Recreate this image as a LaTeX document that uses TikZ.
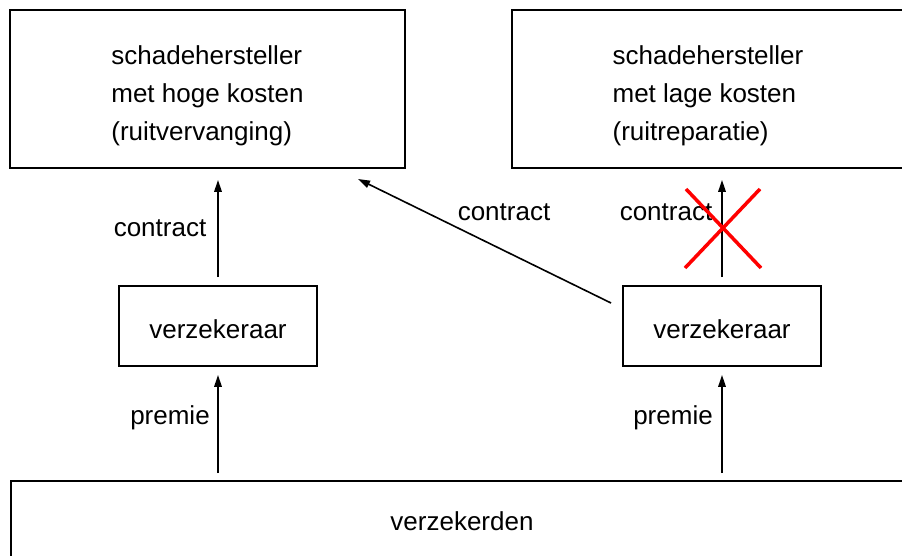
\documentclass[tikz,border=0pt]{standalone}
\usepackage{fontspec}
\setmainfont{Liberation Sans}
\usetikzlibrary{arrows.meta}

\begin{document}
\begin{tikzpicture}[x=1pt,y=1pt,yscale=-1,xscale=1,
    font=\fontsize{26}{38}\selectfont,
    kader/.style={draw,line width=1.8pt,inner sep=0pt,align=left},
    pijl/.style={line width=1.6pt,-{Triangle[length=12pt,width=7.5pt]}},
    kruis/.style={draw=red,line width=3.5pt}]
	\useasboundingbox (0,0) rectangle (902,556);
	% bovenste rij: schadeherstellers
	\node [kader,minimum width=395pt,minimum height=158pt] (hoog) at (207.5,89) {\raisebox{-6pt}[\height][\depth]{\begin{tabular}{@{}l@{}}schadehersteller\\met hoge kosten\\(ruitvervanging)\end{tabular}}};
	\node [kader,minimum width=392pt,minimum height=158pt] (laag) at (708,89) {\raisebox{-6pt}[\height][\depth]{\begin{tabular}{@{}l@{}}schadehersteller\\met lage kosten\\(ruitreparatie)\end{tabular}}};
	% verzekeraars
	\node [kader,minimum width=198pt,minimum height=80pt] (vl) at (218,326) {\raisebox{-3pt}[\height][\depth]{verzekeraar}};
	\node [kader,minimum width=198pt,minimum height=80pt] (vr) at (722,326) {\raisebox{-3pt}[\height][\depth]{verzekeraar}};
	% onderste balk
	\node [kader,minimum width=902pt,minimum height=80pt] (vd) at (462,521) {verzekerden};
	% pijlen
	\draw [pijl,shorten <=7pt,shorten >=8pt] (vl.south |- vd.north) -- (vl.south);
	\draw [pijl,shorten <=7pt,shorten >=8pt] (vr.south |- vd.north) -- (vr.south);
	\draw [pijl,shorten <=8pt,shorten >=11pt] (vl.north) -- (vl.north |- hoog.south);
	\draw [pijl,shorten <=8pt,shorten >=11pt] (vr.north) -- (vr.north |- laag.south);
	\coordinate (dbegin) at (611,303);
	\coordinate (deind) at (358,179);
	\draw [pijl] (dbegin) -- (deind);
	% labels
	\node (cl) at (160,228) {contract};
	\node (cm) at (504,212) {contract};
	\node (cr) at (666,212) {contract};
	\node (pl) at (170,418) {premie};
	\node (pr) at (673,418) {premie};
	% rood kruis
	\draw [kruis] (686,189) -- (761,268);
	\draw [kruis] (760,189) -- (685,268);
\end{tikzpicture}
\end{document}
